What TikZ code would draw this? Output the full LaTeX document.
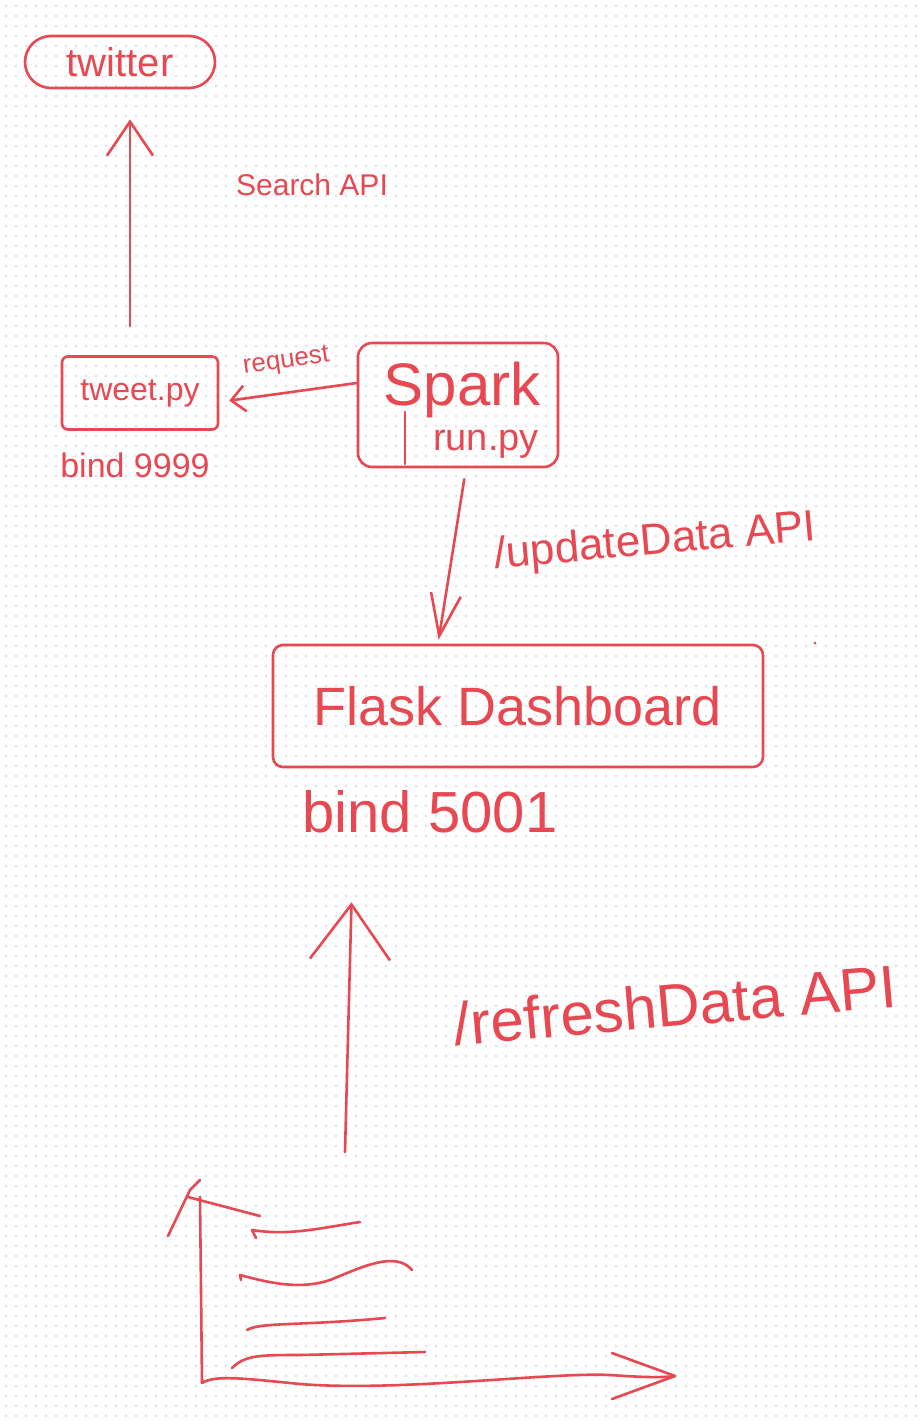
\documentclass[tikz,border=0pt]{standalone}
\usepackage{fontspec}
\setmainfont{Liberation Sans}
\usetikzlibrary{arrows.meta}
\definecolor{sketch}{RGB}{232,72,82}
\definecolor{dotc}{RGB}{214,214,214}
\begin{document}
\begin{tikzpicture}[x=1pt,y=-1pt,
  ink/.style={draw=sketch, line width=2.6pt, line cap=round, line join=round},
  box/.style={ink, rectangle, inner sep=0pt},
  lbl/.style={text=sketch, inner sep=0pt, font=\fontsize{#1}{#1}\selectfont},
]
\fill[white] (0,0) rectangle (922,1422);
\useasboundingbox (0,0) rectangle (922,1422);
\foreach \yy in {6,16,...,1416}
  \draw[dotc, line width=2.4pt, line cap=round, dash pattern=on 0pt off 10pt] (6,\yy) -- (920,\yy);

% nodes
\node[box, minimum width=190pt, minimum height=52pt, rounded corners=26pt, lbl=40] (twitter) at (120,62) {twitter};
\node[box, minimum width=156pt, minimum height=73pt, rounded corners=6pt, lbl=32] (tweet) at (140,393) {tweet.py};
\node[lbl=34] (bind1) at (135,465) {bind 9999};
\node[box, minimum width=200pt, minimum height=124pt, rounded corners=14pt] (spark) at (458,405) {};
\node[lbl=60] (sparktxt) at (462,390) {Spark};
\node[lbl=38] (runtxt) at (486,444) {run.py};
\draw[ink] (405,412) -- (405,464);
\node[box, minimum width=490pt, minimum height=122pt, rounded corners=10pt, lbl=54] (flask) at (518,706) {Flask Dashboard};
\node[lbl=58] (bind2) at (430,812) {bind 5001};

% labels
\node[lbl=30] (searchlbl) at (312,185) {Search API};
\node[lbl=44, rotate=5] (updlbl) at (655,543) {/updateData API};
\node[lbl=60, rotate=5] (reflbl) at (675,1005) {/refreshData API};

% connectors
\draw[ink, -{Straight Barb[length=34pt,width=46pt]}, shorten <=29pt, shorten >=30pt]
  ([xshift=-10pt]tweet.north) -- ([xshift=10pt]twitter.south);
\draw[ink, -{Straight Barb[length=14pt,width=26pt]}, shorten >=10pt]
  ([yshift=22pt]spark.west) -- node[lbl=26, above=18pt, rotate=8] (reqlbl) {request} ([yshift=-9pt]tweet.east);
\draw[ink, -{Straight Barb[length=42pt,width=30pt]}, shorten <=11pt, shorten >=4pt]
  ([xshift=8pt]spark.south) -- ([xshift=-80pt]flask.north);
\coordinate (chartTop) at (345,1152);
\draw[ink, -{Straight Barb[length=55pt,width=80pt]}, shorten >=134pt]
  (chartTop) -- ([xshift=-163pt]flask.south);

% chart
\draw[ink] (200,1197) -- (202,1383) .. controls (215,1375) and (240,1378) .. (300,1384)
  .. controls (400,1392) and (550,1372) .. (610,1375) .. controls (640,1377) and (660,1378) .. (675,1376);
\draw[ink] (612,1353) -- (675,1376) -- (612,1399);
\draw[ink] (168,1236) -- (190,1190) -- (200,1180);
\draw[ink] (188,1197) -- (260,1216);
\draw[ink] (256,1238) -- (252,1230) .. controls (290,1236) and (320,1228) .. (360,1222);
\draw[ink] (241,1280) -- (240,1275) .. controls (270,1283) and (300,1290) .. (330,1280)
  .. controls (360,1268) and (395,1250) .. (412,1270);
\draw[ink] (247,1330) .. controls (260,1322) and (300,1326) .. (385,1318);
\draw[ink] (232,1368) .. controls (245,1355) and (260,1355) .. (300,1355) -- (425,1352);
\fill[sketch] (815,643) circle (1.5pt);
\end{tikzpicture}
\end{document}
